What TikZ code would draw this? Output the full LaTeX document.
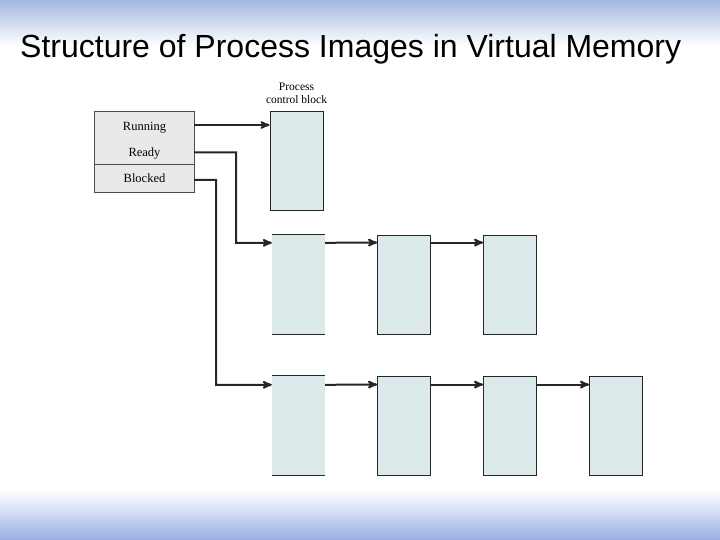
\documentclass[tikz,border=0pt]{standalone}
\usepackage{fontspec}
\setmainfont{Liberation Serif}
\newfontfamily\titlefont{Liberation Sans}
\usetikzlibrary{arrows,calc}
\definecolor{imgfill}{HTML}{DCE9EA}
\definecolor{tabfill}{HTML}{E9E9E9}
\definecolor{slideblue}{HTML}{A3B8E3}
\pgfkeys{tikz/imgbox/.style={fill=imgfill,draw=black!85,line width=0.9pt,minimum width=53pt,minimum height=99pt,inner sep=0pt}}
\pgfkeys{tikz/imgopen/.style={fill=imgfill,minimum width=53pt,minimum height=99pt,inner sep=0pt}}
\pgfkeys{tikz/tabrow/.style={fill=tabfill,minimum width=99pt,inner sep=0pt,text depth=0pt,font=\fontsize{12.5}{13}\selectfont}}
\pgfkeys{tikz/link/.style={line width=2pt,black!85,-stealth'}}
\begin{document}
\begin{tikzpicture}[x=1pt,y=-1pt]
\useasboundingbox (0,0) rectangle (720,540);
\fill[top color=slideblue,bottom color=white] (0,0) rectangle (720,46);
\fill[top color=white,bottom color=slideblue!95!blue] (0,490) rectangle (720,540);
\draw (20,58) node[anchor=base west,inner sep=0pt] (title) {\titlefont\fontsize{32}{36}\selectfont Structure of Process Images in Virtual Memory};
% state table
\draw (144.5,126) node[tabrow,minimum height=28pt] (run) {Running};
\draw (144.5,152.5) node[tabrow,minimum height=25pt] (rdy) {Ready};
\draw (144.5,178.5) node[tabrow,minimum height=27pt] (blk) {Blocked};
\draw[line width=0.7pt,black!70] (run.north west) rectangle (blk.south east);
\draw[line width=0.7pt,black!70] (blk.north west)--(blk.north east);
% process control block
\draw (296.5,161) node[imgbox] (pcb) {};
\draw (296.5,93) node[align=center,inner sep=0pt,font=\fontsize{11.5}{13}\selectfont] (pcbl) {Process\\control block};
% ready queue
\draw (298.5,284.5) node[imgopen] (r1) {};
\draw (404,284.5) node[imgbox] (r2) {};
\draw (510,284.5) node[imgbox] (r3) {};
% blocked queue
\draw (298.5,425.5) node[imgopen] (b1) {};
\draw (404,425.5) node[imgbox] (b2) {};
\draw (510,425.5) node[imgbox] (b3) {};
\draw (616,425.5) node[imgbox] (b4) {};
\draw[line width=0.9pt,black!85] (r1.north west)--(r1.north east) (r1.south west)--(r1.south east);
\draw[line width=0.9pt,black!85] (b1.north west)--(b1.north east) (b1.south west)--(b1.south east);
% pointers
\draw[link] ($(run.east)+(0,-1)$) -- ($(run.east -| pcb.west)+(0,-1)$);
\draw[link] (rdy.east) -| (236,243) -- ($(r1.north west)+(0,8)$);
\draw[link] ($(blk.east)+(0,1.5)$) -| (216,385) -- ($(b1.north west)+(0,9)$);
\draw[link] ($(r1.north east)+(0,8)$) -- ($(r2.north west)+(0,8)$);
\draw[link] ($(r2.north east)+(0,8)$) -- ($(r3.north west)+(0,8)$);
\draw[link] ($(b1.north east)+(0,9)$) -- ($(b2.north west)+(0,9)$);
\draw[link] ($(b2.north east)+(0,9)$) -- ($(b3.north west)+(0,9)$);
\draw[link] ($(b3.north east)+(0,9)$) -- ($(b4.north west)+(0,9)$);
\end{tikzpicture}
\end{document}
